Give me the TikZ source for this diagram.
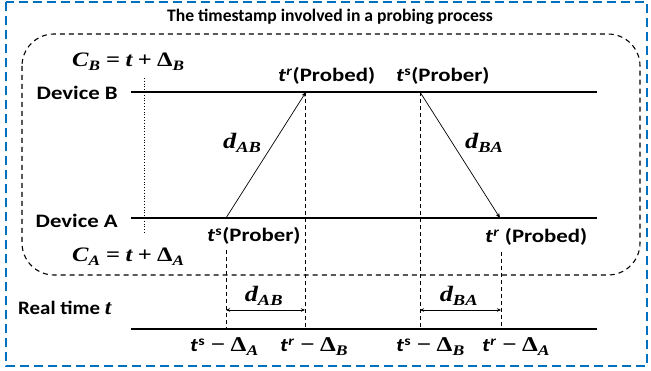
\documentclass[tikz,border=0pt]{standalone}
\usepackage{fontspec}
\usepackage{graphicx}
\setmainfont{Carlito}
\newfontfamily\mserif{Liberation Serif}
\usetikzlibrary{arrows.meta}
\definecolor{bordblue}{RGB}{0,112,192}
\newcommand{\sx}[1]{\scalebox{1.2}[1]{#1}}
\newcommand{\vi}[1]{{\mserif\bfseries\itshape #1}}
\newcommand{\vsub}[1]{\textsubscript{\mserif\bfseries\itshape #1}}
\newcommand{\op}[1]{\hspace{0.22em}{\mserif\bfseries #1}\hspace{0.22em}}
\newcommand{\Dlt}{{\mserif Δ}}
\newcommand{\tr}{\textit{t}\textsuperscript{\textit{r}}}
\newcommand{\ts}{\textit{t}\textsuperscript{s}}
\newcommand{\msz}[2]{{\fontsize{#1}{22}\selectfont #2}}
\tikzset{
  ttl/.style={font=\fontsize{17.6}{20}\selectfont\bfseries, inner sep=0pt},
  lbl/.style={font=\fontsize{19}{20}\selectfont\bfseries, inner sep=0pt},
  timeline/.style={line width=1.6pt},
  msg/.style={line width=0.7pt, -{Stealth[length=5pt,width=4pt]}},
  guide/.style={line width=0.7pt, dash pattern=on 4pt off 3pt},
  span/.style={line width=0.7pt, {Stealth[length=4pt,width=3.5pt]}-{Stealth[length=4pt,width=3.5pt]}},
  frame/.style={bordblue, line width=2.4pt, dash pattern=on 9pt off 5pt},
  clockbox/.style={line width=1.1pt, dash pattern=on 5pt off 4pt, rounded corners=32pt}
}
\begin{document}
\begin{tikzpicture}[x=1pt,y=-1pt]
\useasboundingbox (0,0) rectangle (651,371);
% outer frame
\draw[frame] (6,2) rectangle (647,366);
\node[ttl] (title) at (330,17) {The timestamp involved in a probing process};
% clock box
\draw[clockbox] (22,34) rectangle (640,275);
% timelines
\coordinate (B0) at (131,92); \coordinate (B1) at (597,92);
\coordinate (A0) at (131,218); \coordinate (A1) at (597,218);
\coordinate (R0) at (131,329); \coordinate (R1) at (597,329);
\draw[timeline] (B0) -- (B1);
\draw[timeline] (A0) -- (A1);
\draw[timeline] (R0) -- (R1);
% dotted marker
\coordinate (dt0) at (144,78); \coordinate (dt1) at (144,233);
\draw[line width=0.8pt, dotted] (dt0) -- (dt1);
% event points
\coordinate (sA) at (226,218); \coordinate (rB) at (306,92);
\coordinate (sB) at (420,92); \coordinate (rA) at (500,218);
\draw[msg] (sA) -- (rB);
\draw[msg] (sB) -- (rA);
% guides
\coordinate (g1t) at (226,250); \coordinate (g1b) at (226,329);
\coordinate (g2t) at (305,92);  \coordinate (g2b) at (305,329);
\coordinate (g3t) at (420,92);  \coordinate (g3b) at (420,329);
\coordinate (g4t) at (501,252); \coordinate (g4b) at (501,329);
\draw[guide] (g1t) -- (g1b);
\draw[guide] (g2t) -- (g2b);
\draw[guide] (g3t) -- (g3b);
\draw[guide] (g4t) -- (g4b);
% spans
\coordinate (s1a) at (226,310); \coordinate (s1b) at (305,310);
\coordinate (s2a) at (420,310); \coordinate (s2b) at (501,310);
\draw[span] (s1a) -- (s1b);
\draw[span] (s2a) -- (s2b);
% labels
\node[lbl, anchor=east] (devB) at (118,93) {\sx{Device B}};
\node[lbl, anchor=east] (devA) at (118,221) {\sx{Device A}};
\node[lbl, anchor=base west] (real) at (18,315) {\scalebox{1.1}[1]{Real time \msz{21}{\vi{t}}}};
\node[lbl, anchor=base west] (CB) at (72,67) {\sx{\msz{20.5}{\vi{C}\vsub{B}\op{=}\vi{t}\op{+}\Dlt\vsub{B}}}};
\node[lbl, anchor=base west] (CA) at (72,262) {\sx{\msz{20.5}{\vi{C}\vsub{A}\op{=}\vi{t}\op{+}\Dlt\vsub{A}}}};
\node[lbl, anchor=base west] (lrB) at (278,82) {\sx{\tr(Probed)}};
\node[lbl, anchor=base west] (lsB) at (396,82) {\sx{\ts(Prober)}};
\node[lbl, anchor=base west] (lsA) at (207,242) {\sx{\ts(Prober)}};
\node[lbl, anchor=base west] (lrA) at (485,243) {\sx{\tr\ (Probed)}};
\node[lbl, anchor=base west] (dAB) at (223,149) {\sx{\msz{22}{\vi{d}\vsub{AB}}}};
\node[lbl, anchor=base west] (dBA) at (465,149) {\sx{\msz{22}{\vi{d}\vsub{BA}}}};
\node[lbl, anchor=base] (dAB2) at (264,302) {\sx{\msz{22}{\vi{d}\vsub{AB}}}};
\node[lbl, anchor=base] (dBA2) at (459,302) {\sx{\msz{22}{\vi{d}\vsub{BA}}}};
\node[lbl, anchor=base west] (b1) at (190,352) {\sx{\ts\msz{21}{\op{−}\Dlt\vsub{A}}}};
\node[lbl, anchor=base west] (b2) at (280,352) {\sx{\tr\msz{21}{\op{−}\Dlt\vsub{B}}}};
\node[lbl, anchor=base west] (b3) at (396,352) {\sx{\ts\msz{21}{\op{−}\Dlt\vsub{B}}}};
\node[lbl, anchor=base west] (b4) at (482,352) {\sx{\tr\msz{21}{\op{−}\Dlt\vsub{A}}}};
\end{tikzpicture}
\end{document}
